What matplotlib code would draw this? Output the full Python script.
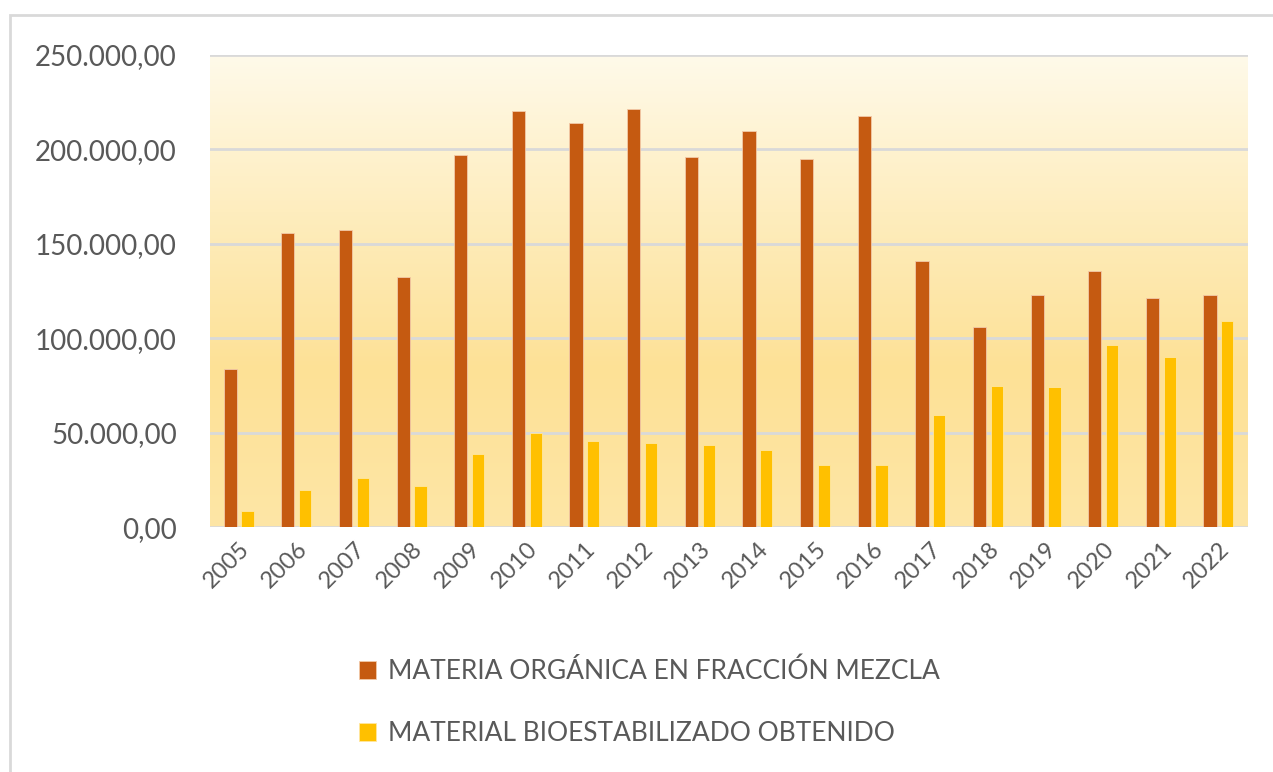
import matplotlib.pyplot as plt
import numpy as np
from matplotlib.colors import LinearSegmentedColormap
from matplotlib.patches import Rectangle

plt.rcParams['font.family'] = ['Lato', 'DejaVu Sans']

years = ['2005', '2006', '2007', '2008', '2009', '2010', '2011', '2012', '2013',
         '2014', '2015', '2016', '2017', '2018', '2019', '2020', '2021', '2022']
materia_organica = [83700, 155700, 157300, 132400, 197000, 220400, 214000, 221400, 196000,
                    209800, 195000, 217700, 140900, 106000, 122900, 135600, 121300, 122900]
bioestabilizado = [8500, 19600, 26000, 21700, 38700, 49800, 45600, 44500, 43400,
                   40800, 32800, 32800, 59300, 74700, 74200, 96400, 90000, 109100]
labels = ['MATERIA ORGÁNICA EN FRACCIÓN MEZCLA', 'MATERIAL BIOESTABILIZADO OBTENIDO']

fig = plt.figure(figsize=(12.73, 7.72), dpi=100)
ax = fig.add_axes([0.165, 0.317, 0.815, 0.612])

# gradient background of the plot area
cmap = LinearSegmentedColormap.from_list('bg', ['#FFFAEA', '#FEEDBE', '#FDE196', '#FEE6A6'])
grad = np.linspace(0, 1, 256).reshape(-1, 1)
ax.imshow(grad, cmap=cmap, aspect='auto', extent=[0, 1, 0, 1],
          transform=ax.transAxes, zorder=0)

x = np.arange(len(years))
w = 0.23
ax.bar(x - 0.15, materia_organica, w, color='#C55A11', edgecolor='#F2C9A8',
       linewidth=0.6, label=labels[0], zorder=3)
ax.bar(x + 0.15, bioestabilizado, w * 0.92, color='#FFC000', edgecolor='#FFE7A0',
       linewidth=0.6, label=labels[1], zorder=3)

ax.set_xlim(-0.5, len(years) - 0.5)
ax.set_ylim(0, 250000)
ax.set_yticks(np.arange(0, 250001, 50000))
ax.set_yticklabels([f'{v:,.2f}'.replace(',', 'X').replace('.', ',').replace('X', '.')
                    for v in np.arange(0, 250001, 50000)])
ax.grid(axis='y', color='#D9D9D9', linewidth=2, zorder=1)
ax.set_axisbelow(True)
for s in ax.spines.values():
    s.set_visible(False)
ax.tick_params(length=0, labelcolor='#595959')
ax.tick_params(axis='y', labelsize=20, pad=24)
ax.set_xticks(x)
ax.set_xticklabels(years, rotation=45, ha='right', rotation_mode='anchor', fontsize=17)
ax.tick_params(axis='x', pad=8)

fig.legend(loc='center left', bbox_to_anchor=(0.263, 0.09), frameon=False,
           fontsize=19, labelcolor='#595959', handlelength=0.65, handleheight=0.65,
           handletextpad=0.45, labelspacing=1.4)

# outer border of the chart
fig.add_artist(Rectangle((0.008, -0.01), 1.1, 0.99, transform=fig.transFigure,
                         fill=False, edgecolor='#D9D9D9', linewidth=2))

fig.savefig('out.png', dpi=100)
